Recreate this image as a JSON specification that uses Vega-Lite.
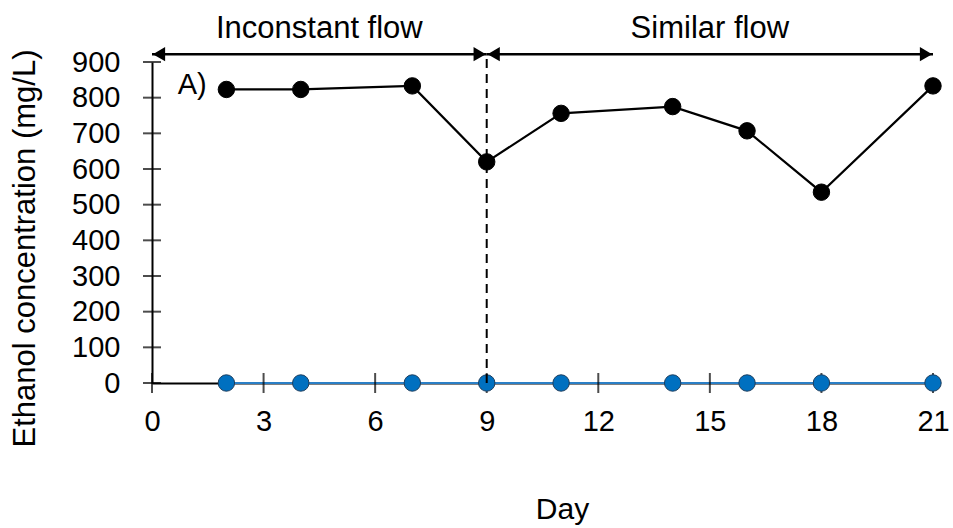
{
  "$schema": "https://vega.github.io/schema/vega-lite/v6.json",
  "autosize": "none",
  "width": 781,
  "height": 321,
  "padding": {"left": 152, "top": 62, "right": 20, "bottom": 145},
  "background": "white",
  "config": {
    "view": {"stroke": null},
    "font": "Liberation Sans",
    "axis": {"labelFont": "Liberation Sans", "titleFont": "Liberation Sans", "labelColor": "black", "titleColor": "black", "titleFontWeight": "normal", "grid": false, "ticks": false, "domainColor": "black", "domainWidth": 2, "labelFlush": false}
  },
  "datasets": {
    "series": [
      {"day": 2, "conc": 823, "series": "A"},
      {"day": 4, "conc": 823, "series": "A"},
      {"day": 7, "conc": 833, "series": "A"},
      {"day": 9, "conc": 620, "series": "A"},
      {"day": 11, "conc": 756, "series": "A"},
      {"day": 14, "conc": 775, "series": "A"},
      {"day": 16, "conc": 707, "series": "A"},
      {"day": 18, "conc": 535, "series": "A"},
      {"day": 21, "conc": 833, "series": "A"},
      {"day": 2, "conc": 0, "series": "B"},
      {"day": 4, "conc": 0, "series": "B"},
      {"day": 7, "conc": 0, "series": "B"},
      {"day": 9, "conc": 0, "series": "B"},
      {"day": 11, "conc": 0, "series": "B"},
      {"day": 14, "conc": 0, "series": "B"},
      {"day": 16, "conc": 0, "series": "B"},
      {"day": 18, "conc": 0, "series": "B"},
      {"day": 21, "conc": 0, "series": "B"}
    ],
    "xticks": [{"day": 0, "conc": 0}, {"day": 3, "conc": 0}, {"day": 6, "conc": 0}, {"day": 9, "conc": 0}, {"day": 12, "conc": 0}, {"day": 15, "conc": 0}, {"day": 18, "conc": 0}, {"day": 21, "conc": 0}],
    "yticks": [{"day": 0, "conc": 0}, {"day": 0, "conc": 100}, {"day": 0, "conc": 200}, {"day": 0, "conc": 300}, {"day": 0, "conc": 400}, {"day": 0, "conc": 500}, {"day": 0, "conc": 600}, {"day": 0, "conc": 700}, {"day": 0, "conc": 800}, {"day": 0, "conc": 900}],
    "spans": [
      {"start": 0, "end": 9, "level": 922, "label": "Inconstant flow", "mid": 4.5},
      {"start": 9, "end": 21, "level": 922, "label": "Similar flow", "mid": 15}
    ],
    "divider": [{"day": 9, "from": 0, "to": 922}],
    "panel": [{"day": 1.08, "conc": 835, "label": "A)"}]
  },
  "encoding": {
    "x": {"field": "day", "type": "quantitative", "scale": {"domain": [0, 21], "nice": false, "zero": false},
      "axis": {"values": [0, 3, 6, 9, 12, 15, 18, 21], "labelFontSize": 29, "labelPadding": 24, "title": "Day", "titleFontSize": 30, "titleX": 410, "titleY": 135, "titleBaseline": "alphabetic", "titleAnchor": null}},
    "y": {"field": "conc", "type": "quantitative", "scale": {"domain": [0, 900], "nice": false},
      "axis": {"values": [0, 100, 200, 300, 400, 500, 600, 700, 800, 900], "labelFontSize": 29, "labelPadding": 32, "title": "Ethanol concentration (mg/L)", "titleFontSize": 31, "titleX": -127, "titleY": 186, "titleAngle": -90, "titleBaseline": "middle", "titleAlign": "center"}}
  },
  "layer": [
    {
      "data": {"name": "series"},
      "mark": {"type": "line", "strokeWidth": 2.2},
      "encoding": {
        "color": {"field": "series", "type": "nominal", "scale": {"domain": ["A", "B"], "range": ["black", "#2A7FC6"]}, "legend": null}
      }
    },
    {
      "data": {"name": "xticks"},
      "mark": {"type": "tick", "orient": "vertical", "size": 20, "thickness": 2, "color": "black"}
    },
    {
      "data": {"name": "yticks"},
      "mark": {"type": "tick", "orient": "horizontal", "size": 18, "thickness": 2, "color": "black"}
    },
    {
      "data": {"name": "series"},
      "mark": {"type": "point", "filled": true, "size": 270, "opacity": 1, "strokeWidth": 1},
      "encoding": {
        "fill": {"field": "series", "type": "nominal", "scale": {"domain": ["A", "B"], "range": ["black", "#0070C0"]}, "legend": null},
        "stroke": {"field": "series", "type": "nominal", "scale": {"domain": ["A", "B"], "range": ["black", "#1D3E5E"]}, "legend": null}
      }
    },
    {
      "data": {"name": "divider"},
      "mark": {"type": "rule", "strokeWidth": 2, "strokeDash": [9, 6], "color": "black"},
      "encoding": {
        "x": {"field": "day", "type": "quantitative"},
        "y": {"field": "from", "type": "quantitative"},
        "y2": {"field": "to"}
      }
    },
    {
      "data": {"name": "spans"},
      "mark": {"type": "rule", "strokeWidth": 2.5, "color": "black"},
      "encoding": {
        "x": {"field": "start", "type": "quantitative"},
        "x2": {"field": "end"},
        "y": {"field": "level", "type": "quantitative"}
      }
    },
    {
      "data": {"name": "spans"},
      "mark": {"type": "point", "shape": "triangle-left", "filled": true, "size": 200, "color": "black", "opacity": 1, "xOffset": 7},
      "encoding": {
        "x": {"field": "start", "type": "quantitative"},
        "y": {"field": "level", "type": "quantitative"}
      }
    },
    {
      "data": {"name": "spans"},
      "mark": {"type": "point", "shape": "triangle-right", "filled": true, "size": 200, "color": "black", "opacity": 1, "xOffset": -7},
      "encoding": {
        "x": {"field": "end", "type": "quantitative"},
        "y": {"field": "level", "type": "quantitative"}
      }
    },
    {
      "data": {"name": "spans"},
      "mark": {"type": "text", "fontSize": 31, "baseline": "alphabetic", "align": "center", "color": "black", "font": "Liberation Sans", "dy": -16},
      "encoding": {
        "x": {"field": "mid", "type": "quantitative"},
        "y": {"field": "level", "type": "quantitative"},
        "text": {"field": "label"}
      }
    },
    {
      "data": {"name": "panel"},
      "mark": {"type": "text", "fontSize": 29, "baseline": "middle", "align": "center", "color": "black", "font": "Liberation Sans"},
      "encoding": {
        "x": {"field": "day", "type": "quantitative"},
        "y": {"field": "conc", "type": "quantitative"},
        "text": {"field": "label"}
      }
    }
  ]
}
